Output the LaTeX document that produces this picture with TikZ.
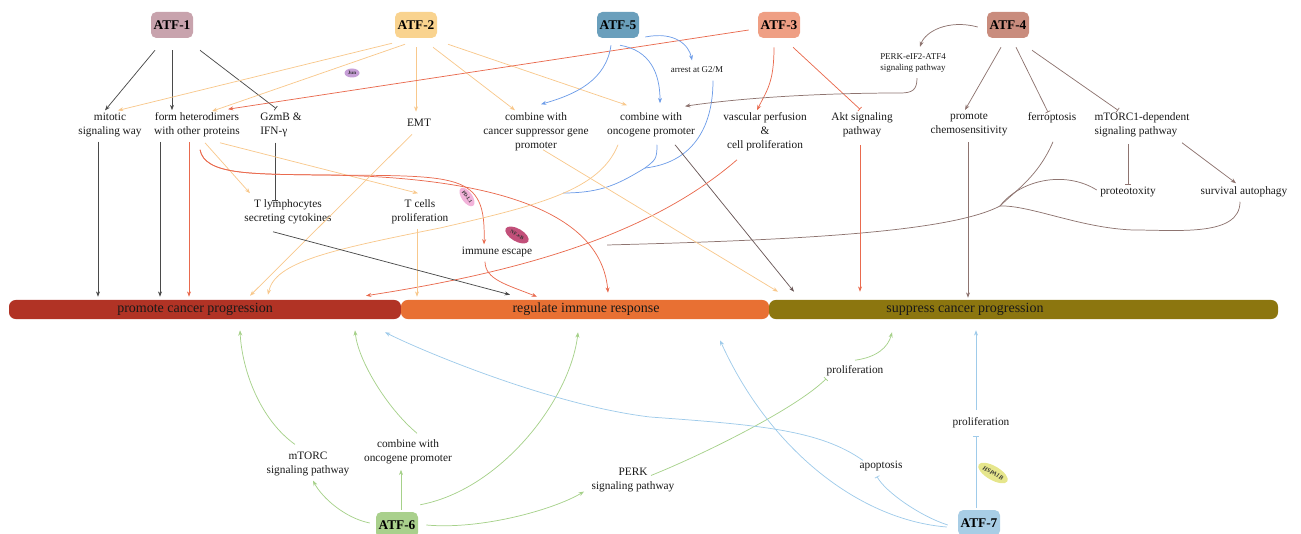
\documentclass[tikz,border=0pt]{standalone}
\usepackage{fontspec}
\setmainfont{Liberation Serif}
\usetikzlibrary{arrows.meta,shapes.geometric,calc}
\definecolor{cA1}{HTML}{C8A3AD}
\definecolor{cA2}{HTML}{F9D38F}
\definecolor{cA5}{HTML}{6A9FBC}
\definecolor{cA3}{HTML}{EF9F84}
\definecolor{cA4}{HTML}{C98C7D}
\definecolor{cA6}{HTML}{A9D08C}
\definecolor{cA7}{HTML}{A8CDE5}
\definecolor{cG}{HTML}{4A4A4A}
\definecolor{cO}{HTML}{F8C88C}
\definecolor{cR}{HTML}{E96A4E}
\definecolor{cB}{HTML}{6E9DE8}
\definecolor{cBr}{HTML}{8E7470}
\definecolor{cBrD}{HTML}{6A5858}
\definecolor{cGr}{HTML}{A6D18A}
\definecolor{cLB}{HTML}{9FCBEA}
\definecolor{cB1}{HTML}{B13325}
\definecolor{cB2}{HTML}{E87033}
\definecolor{cB3}{HTML}{8C760F}
\definecolor{cJun}{HTML}{C69ED6}
\definecolor{cPD}{HTML}{F2B3DA}
\definecolor{cNF}{HTML}{C2507A}
\definecolor{cHS}{HTML}{E6E68C}
\tikzset{
  atf/.style={rounded corners=4pt, minimum width=31.5pt, minimum height=19.5pt, inner sep=1pt, font=\bfseries\fontsize{10}{12}\selectfont},
  lbl/.style={align=center, inner sep=1pt, font=\fontsize{8.5}{10.5}\selectfont, text=black!90},
  sml/.style={align=center, inner sep=1pt, font=\fontsize{6.7}{8.5}\selectfont, text=black!90},
  barbox/.style={rounded corners=5pt, minimum height=14.25pt, inner sep=0pt},
  bartext/.style={inner sep=0pt, font=\fontsize{10.5}{12}\selectfont, text=black!90},
  tag/.style={ellipse, inner sep=0.3pt, font=\bfseries\fontsize{3.8}{4}\selectfont, text=black!80},
  ln/.style={line width=0.55pt},
  ar/.style={ln, -{Stealth[length=4pt,width=3pt]}},
  br/.style={ln, -{Bar[width=4pt,line width=0.55pt]}}
}
\begin{document}
\begin{tikzpicture}[x=0.75pt,y=-0.75pt]
\useasboundingbox (0,0) rectangle (1301,534);

% bars
\node[barbox, fill=cB1, minimum width=294pt] (b1) at (205,309.5) {};
\node[barbox, fill=cB2, minimum width=276pt] (b2) at (585,309.5) {};
\node[barbox, fill=cB3, minimum width=381.75pt] (b3) at (1023.5,309.5) {};
\node[bartext] (t1) at (195,309) {promote cancer progression};
\node[bartext] (t2) at (586,309) {regulate immune response};
\node[bartext] (t3) at (965,309) {suppress cancer progression};

% ATF boxes
\node[atf, fill=cA1] (a1) at (172,25) {ATF-1};
\node[atf, fill=cA2] (a2) at (416,25) {ATF-2};
\node[atf, fill=cA5] (a5) at (618,25) {ATF-5};
\node[atf, fill=cA3] (a3) at (779,25) {ATF-3};
\node[atf, fill=cA4] (a4) at (1008,25) {ATF-4};
\node[atf, fill=cA6] (a6) at (397,525) {ATF-6};
\node[atf, fill=cA7] (a7) at (979,523) {ATF-7};

% text nodes
\node[lbl] (mit) at (110,125) {mitotic\\signaling way};
\node[lbl] (fh) at (197,125) {form heterodimers\\with other proteins};
\node[lbl, align=left] (gz) at (281,125) {GzmB \&\\IFN-γ};
\node[lbl] (emt) at (419,123) {EMT};
\node[lbl] (ccs) at (536,132) {combine with\\cancer suppressor gene\\promoter};
\node[lbl] (cop) at (651,125) {combine with\\oncogene promoter};
\node[lbl] (vas) at (765,132) {vascular perfusion\\\&\\cell proliferation};
\node[lbl] (akt) at (862,125) {Akt signaling\\pathway};
\node[lbl] (chem) at (969,125) {promote\\chemosensitivity};
\node[lbl] (fer) at (1052,118) {ferroptosis};
\node[lbl, align=left] (mtor) at (1142,125) {mTORC1-dependent\\signaling pathway};
\node[sml] (perk4) at (913,63) {PERK-eIF2-ATF4\\signaling pathway};
\node[sml] (g2m) at (697,70) {arrest at G2/M};
\node[lbl] (tly) at (288,212) {T lymphocytes\\secreting cytokines};
\node[lbl] (tcp) at (420,212) {T cells\\proliferation};
\node[lbl] (imm) at (497,252) {immune escape};
\node[lbl] (prot) at (1128,192) {proteotoxity};
\node[lbl] (surv) at (1244,192) {survival autophagy};
\node[lbl] (prol1) at (855,371) {proliferation};
\node[lbl] (prol2) at (981,423) {proliferation};
\node[lbl] (apo) at (881,466) {apoptosis};
\node[lbl] (perk) at (633,480) {PERK\\signaling pathway};
\node[lbl] (cop2) at (408,452) {combine with\\oncogene promoter};
\node[lbl] (mtc) at (308,464) {mTORC\\signaling pathway};

\coordinate (bj) at (645,168);
\coordinate (bend) at (563,193);
\coordinate (jn) at (1000,206);
\coordinate (nfe) at (607,245);

% ATF-1
\draw[ar,cG] ([shift={(-17,12)}]a1.south) -- ([shift={(-5,-1)}]mit.north);
\draw[ar,cG] ([shift={(0,12)}]a1.south) -- ([shift={(-25,-1)}]fh.north);
\draw[br,cG] ([shift={(28,12)}]a1.south) -- ([shift={(-5,-3)}]gz.north);
% ATF-2
\draw[ar,cO] ([shift={(-24,5)}]a2.south) -- ([shift={(8,-1)}]mit.north);
\draw[ar,cO] ([shift={(-11,6)}]a2.south) -- ([shift={(15,0)}]fh.north);
\draw[ar,cO] ([shift={(0,9)}]a2.south) -- ([shift={(-3,-6)}]emt.north);
\draw[ar,cO] ([shift={(17,9)}]a2.south) -- ([shift={(-21,-1)}]ccs.north);
\draw[ar,cO] ([shift={(32,6)}]a2.south) -- ([shift={(-24,-6)}]cop.north);
% ATF-3
\draw[ar,cR] ([shift={(-9,5)}]a3.west) -- ([shift={(31,-2)}]fh.north);
\draw[ar,cR] ([shift={(-5,9)}]a3.south) .. controls +(0,35) and +(10,-20) .. ([shift={(-8,-1)}]vas.north);
\draw[br,cR] ([shift={(14,9)}]a3.south) -- ([shift={(-2,-2)}]akt.north);
% ATF-5
\draw[ar,cB] ([shift={(-7,7)}]a5.south) .. controls +(-5,35) and +(35,-10) .. ([shift={(5,-7)}]ccs.north);
\draw[ar,cB] ([shift={(2,7)}]a5.south) .. controls +(30,5) and +(0,-30) .. ([shift={(9,-8)}]cop.north);
\draw[ar,cB] ([shift={(6,12)}]a5.east) .. controls +(30,-6) and +(-3,-15) .. ([shift={(-5,-5)}]g2m.north);
\draw[ln,cB] ([shift={(16,6)}]g2m.south) .. controls +(0,50) and +(45,-5) .. (bj);
\draw[ln,cB] ([shift={(6,6)}]cop.south) .. controls +(0,15) and +(10,-8) .. (bj);
\draw[ln,cB] (bj) .. controls +(-25,15) and +(40,0) .. (bend);
% ATF-4
\draw[ar,cBr] ([shift={(-9,2)}]a4.west) .. controls +(-30,-8) and +(5,-15) .. ([shift={(7,-5)}]perk4.north);
\draw[ar,cBr] ([shift={(4,4)}]perk4.south) .. controls +(0,12) and +(12,0) .. (900,93) .. controls (820,93) and (740,98) .. ([shift={(34,-5)}]cop.north);
\draw[ar,cBr] ([shift={(-7,9)}]a4.south) -- ([shift={(-4,-2)}]chem.north);
\draw[br,cBr] ([shift={(8,9)}]a4.south) -- ([shift={(-4,1)}]fer.north);
\draw[br,cBr] ([shift={(24,12)}]a4.south) -- ([shift={(-24,-1)}]mtor.north);
\draw[br,cBr] ([shift={(-14,5)}]mtor.south) -- ([shift={(0,-1)}]prot.north);
\draw[ar,cBr] ([shift={(40,4)}]mtor.south) -- ([shift={(-8,-2)}]surv.north);
\draw[ar,cBr] ([shift={(-1,4)}]chem.south) -- ([shift={(-55.5,-2)}]b3.north);
\draw[ln,cBr] ([shift={(1,17)}]fer.south) .. controls +(-15,35) and +(15,-15) .. (jn);
\draw[ln,cBr] ([shift={(-2,-2)}]prot.west) .. controls +(-32,-20) and +(20,-26) .. (jn);
\draw[ln,cBr] ([shift={(-4,3)}]surv.south) .. controls +(0,35) and +(45,0) .. (1133,230) .. controls (1080,228) and (1030,205) .. (jn);
\draw[ln,cBr] (jn) .. controls (950,232) and (800,240) .. (nfe);
\draw[ar,cBrD] ([shift={(24,6)}]cop.south) -- ([shift={(-229.5,-8)}]b3.north);
\draw[ar,cR] ([shift={(-2,6)}]akt.south) -- ([shift={(-163.5,-8)}]b3.north);

% middle left
\draw[ar,cG] ([shift={(-12,3)}]mit.south) -- ([shift={(-107,-3)}]b1.north);
\draw[ar,cG] ([shift={(-37,3)}]fh.south) -- ([shift={(-45,-3)}]b1.north);
\draw[ar,cR] ([shift={(-8,3)}]fh.south) -- ([shift={(-16,-3)}]b1.north);
\draw[br,cG] ([shift={(-6,4)}]gz.south) -- ([shift={(-13,2)}]tly.north);
\draw[ar,cO] ([shift={(8,4)}]fh.south) -- ([shift={(-38,-5)}]tly.north);
\draw[ar,cO] ([shift={(23,4)}]fh.south) -- ([shift={(-2,-5)}]tcp.north);
\draw[ar,cR] ([shift={(3,11)}]fh.south) .. controls +(5,25) and +(-70,-1) .. (320,175) .. controls (460,176) and (486,172) .. ([shift={(-13,-1)}]imm.north);
\draw[ar,cR] ([shift={(3,11)}]fh.south) .. controls +(5,25) and +(-70,-1) .. (320,175) .. controls (460,176) and (600,200) .. ([shift={(23,-7)}]b2.north);
\draw[ar,cR] ([shift={(-12,3)}]imm.south) .. controls +(0,18) and +(-30,-12) .. ([shift={(-48,-3)}]b2.north);
\draw[ar,cR] ([shift={(-28,7)}]vas.south) .. controls (650,235) and (520,272) .. ([shift={(161,-4)}]b1.north);
\draw[ar,cO] ([shift={(-7,6)}]emt.south) -- ([shift={(45,-4)}]b1.north);
\draw[ar,cO] ([shift={(-33,6)}]cop.south) .. controls (600,190) and (540,205) .. (440,228) .. controls (330,250) and (275,262) .. ([shift={(63,-5)}]b1.north);
\draw[ar,cO] ([shift={(7,-3)}]ccs.south) -- ([shift={(-245.5,-8)}]b3.north);
\draw[ar,cO] ([shift={(-3,3)}]tcp.south) -- ([shift={(-168,-3)}]b2.north);
\draw[ar,cG] ([shift={(-15,6)}]tly.south) -- ([shift={(-75,-5)}]b2.north);

% bottom: ATF-6
\draw[ar,cGr] ([shift={(-6,-2)}]a6.west) .. controls +(-25,-5) and +(9,17) .. ([shift={(5,3)}]mtc.south);
\draw[ar,cGr] ([shift={(-13,-6)}]mtc.north) .. controls +(-35,-25) and +(2,40) .. ([shift={(35,11)}]b1.south);
\draw[ar,cGr] ([shift={(4,-2)}]a6.north) -- ([shift={(-7,4)}]cop2.south);
\draw[ar,cGr] ([shift={(9,-5)}]cop2.north) .. controls +(-30,-25) and +(3,30) .. ([shift={(150,11)}]b1.south);
\draw[ar,cGr] ([shift={(2,-7)}]a6.north east) .. controls +(80,-15) and +(-8,68) .. ([shift={(-7,13)}]b2.south);
\draw[ar,cGr] ([shift={(8,0)}]a6.east) .. controls +(55,5) and +(-30,18) .. ([shift={(-6,-2)}]perk.south west);
\draw[br,cGr] ([shift={(18,9)}]perk.north) .. controls +(50,-20) and +(-30,30) .. ([shift={(1,1)}]prol1.south west);
\draw[ar,cGr] ([shift={(0,-4)}]prol1.north) .. controls +(22,-3) and +(-4,15) .. ([shift={(-131.5,13)}]b3.south);
% ATF-7
\draw[br,cLB] ([shift={(-3,-2)}]a7.north) -- ([shift={(-5,6)}]prol2.south);
\draw[ar,cLB] ([shift={(-5,-6)}]prol2.north) -- ([shift={(-47.5,11)}]b3.south);
\draw[br,cLB] ([shift={(-10,2)}]a7.west) .. controls +(-28,-9) and +(8,15) .. ([shift={(-4,4)}]apo.south);
\draw[ar,cLB] ([shift={(-18,1)}]apo.north) .. controls (820,430) and (760,425) .. (650,417) .. controls (550,405) and (420,350) .. ([shift={(180,13)}]b1.south);
\draw[ar,cLB] ([shift={(-11,4)}]a7.west) .. controls +(-87,-7) and +(50,110) .. ([shift={(135,21)}]b2.south);

% tags
\node[tag, fill=cJun, minimum width=11.25pt, minimum height=6.75pt] (jun) at (352,73) {Jun};
\node[tag, fill=cPD, minimum width=16pt, minimum height=8pt, rotate=-55] (pdl) at (467,197) {PD-L1};
\node[tag, fill=cNF, minimum width=19.5pt, minimum height=9.5pt, rotate=-30] (nfk) at (517,235) {NF-κB};
\node[tag, fill=cHS, minimum width=24pt, minimum height=10.5pt, rotate=-30, font=\bfseries\itshape\fontsize{4.6}{5}\selectfont] (hsp) at (993,473) {HSPA1B};
\end{tikzpicture}
\end{document}
